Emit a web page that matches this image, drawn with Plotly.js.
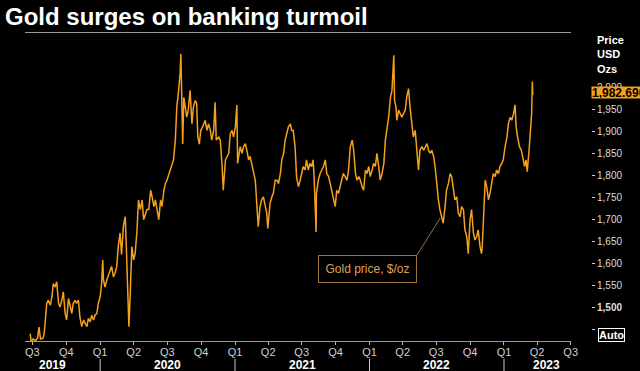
<!DOCTYPE html>
<html>
<head>
<meta charset="utf-8">
<script src="https://cdn.plot.ly/plotly-3.0.1.min.js"></script>
<style>html,body{margin:0;padding:0;background:#000;}#chart{width:640px;height:371px;}</style>
</head>
<body>
<div id="chart"></div>
<script>
// Gold price, $/oz
const dates = [
'2019-06-25','2019-06-28','2019-07-03','2019-07-09','2019-07-15','2019-07-19','2019-07-23','2019-07-30','2019-08-02','2019-08-05',
'2019-08-09','2019-08-13','2019-08-19','2019-08-23','2019-08-27','2019-09-01','2019-09-05','2019-09-10','2019-09-14','2019-09-19',
'2019-09-23','2019-09-28','2019-10-02','2019-10-07','2019-10-11','2019-10-16','2019-10-20','2019-10-25','2019-10-29','2019-11-03',
'2019-11-07','2019-11-12','2019-11-17','2019-11-21','2019-11-26','2019-11-30','2019-12-05','2019-12-09','2019-12-14','2019-12-18',
'2019-12-23','2019-12-27','2020-01-01','2020-01-05','2020-01-08','2020-01-10','2020-01-14','2020-01-19','2020-01-23','2020-01-28',
'2020-02-01','2020-02-06','2020-02-10','2020-02-15','2020-02-19','2020-02-24','2020-02-28','2020-03-04','2020-03-09','2020-03-12',
'2020-03-16','2020-03-19','2020-03-23','2020-03-27','2020-04-01','2020-04-05','2020-04-10','2020-04-14','2020-04-19','2020-04-24',
'2020-04-28','2020-05-03','2020-05-07','2020-05-12','2020-05-17','2020-05-21','2020-05-26','2020-05-30','2020-06-04','2020-06-08',
'2020-06-13','2020-06-17','2020-06-22','2020-06-26','2020-06-30','2020-07-09','2020-07-18','2020-07-23','2020-07-27','2020-07-31',
'2020-08-05','2020-08-07','2020-08-09','2020-08-12','2020-08-15','2020-08-18','2020-08-23','2020-08-27','2020-09-01','2020-09-06',
'2020-09-10','2020-09-15','2020-09-19','2020-09-22','2020-09-26','2020-09-30','2020-10-05','2020-10-12','2020-10-17','2020-10-21',
'2020-10-26','2020-10-30','2020-11-04','2020-11-08','2020-11-11','2020-11-18','2020-11-22','2020-11-27','2020-11-30','2020-12-06',
'2020-12-10','2020-12-15','2020-12-19','2020-12-24','2020-12-28','2021-01-02','2021-01-06','2021-01-08','2021-01-15','2021-01-20',
'2021-01-24','2021-01-29','2021-02-02','2021-02-07','2021-02-11','2021-02-16','2021-02-21','2021-02-25','2021-03-01','2021-03-05',
'2021-03-10','2021-03-14','2021-03-19','2021-03-23','2021-03-28','2021-03-31','2021-04-06','2021-04-11','2021-04-15','2021-04-20',
'2021-04-25','2021-04-29','2021-05-04','2021-05-08','2021-05-13','2021-05-17','2021-05-22','2021-05-26','2021-05-31','2021-06-04',
'2021-06-08','2021-06-13','2021-06-17','2021-06-22','2021-06-27','2021-07-01','2021-07-05','2021-07-10','2021-07-14','2021-07-19',
'2021-07-23','2021-07-28','2021-08-01','2021-08-04','2021-08-09','2021-08-10','2021-08-15','2021-08-20','2021-08-24','2021-08-29',
'2021-09-03','2021-09-07','2021-09-12','2021-09-16','2021-09-21','2021-09-25','2021-09-30','2021-10-04','2021-10-09','2021-10-13',
'2021-10-18','2021-10-22','2021-10-27','2021-11-01','2021-11-05','2021-11-10','2021-11-15','2021-11-19','2021-11-24','2021-11-28',
'2021-12-03','2021-12-07','2021-12-12','2021-12-16','2021-12-21','2021-12-25','2021-12-30','2022-01-03','2022-01-08','2022-01-12',
'2022-01-17','2022-01-21','2022-01-26','2022-01-30','2022-02-04','2022-02-09','2022-02-13','2022-02-18','2022-02-22','2022-02-27',
'2022-03-03','2022-03-08','2022-03-10','2022-03-14','2022-03-16','2022-03-21','2022-03-25','2022-03-30','2022-04-03','2022-04-08',
'2022-04-12','2022-04-17','2022-04-21','2022-04-26','2022-04-30','2022-05-05','2022-05-09','2022-05-14','2022-05-18','2022-05-23',
'2022-05-28','2022-06-01','2022-06-06','2022-06-10','2022-06-15','2022-06-19','2022-06-24','2022-06-28','2022-07-02','2022-07-07',
'2022-07-11','2022-07-16','2022-07-20','2022-07-25','2022-07-29','2022-08-03','2022-08-08','2022-08-12','2022-08-17','2022-08-21',
'2022-08-26','2022-08-30','2022-09-04','2022-09-08','2022-09-13','2022-09-17','2022-09-22','2022-09-26','2022-10-01','2022-10-05',
'2022-10-10','2022-10-14','2022-10-19','2022-10-23','2022-10-28','2022-11-01','2022-11-03','2022-11-08','2022-11-11','2022-11-15',
'2022-11-20','2022-11-24','2022-11-29','2022-12-03','2022-12-08','2022-12-12','2022-12-17','2022-12-21','2022-12-26','2022-12-30',
'2023-01-04','2023-01-09','2023-01-13','2023-01-18','2023-01-22','2023-01-27','2023-01-31','2023-02-03','2023-02-07','2023-02-12',
'2023-02-17','2023-02-21','2023-02-26','2023-03-02','2023-03-05','2023-03-10','2023-03-15','2023-03-17','2023-03-19','2023-03-20'
];
const prices = [
1440,1420,1428,1424,1430,1455,1428,1430,1440,1470,
1509,1516,1505,1524,1554,1546,1558,1509,1501,1516,
1535,1486,1471,1520,1501,1486,1509,1516,1509,1516,
1478,1456,1471,1463,1456,1475,1467,1482,1471,1482,
1486,1509,1524,1554,1608,1562,1546,1562,1573,1585,
1593,1569,1577,1593,1638,1669,1620,1684,1706,1638,
1500,1456,1538,1638,1608,1622,1675,1744,1722,1744,
1699,1714,1722,1722,1766,1751,1729,1744,1722,1699,
1744,1729,1766,1781,1788,1812,1835,1880,1955,1985,
2032,2076,2017,1871,1977,1955,1932,1948,1993,1917,
1955,1970,1963,1887,1871,1902,1910,1925,1902,1917,
1902,1880,1902,1966,1880,1887,1880,1820,1766,1835,
1843,1850,1894,1902,1887,1910,1960,1827,1865,1850,
1865,1872,1857,1835,1843,1820,1804,1789,1729,1683,
1729,1744,1751,1736,1714,1679,1736,1751,1759,1789,
1789,1781,1804,1835,1850,1880,1894,1910,1917,1902,
1902,1865,1797,1774,1789,1804,1820,1812,1835,1812,
1827,1820,1835,1789,1671,1759,1789,1804,1812,1820,
1835,1804,1797,1781,1759,1751,1729,1766,1759,1774,
1789,1804,1797,1789,1812,1865,1880,1857,1804,1789,
1797,1789,1774,1766,1812,1804,1820,1797,1812,1827,
1820,1850,1820,1789,1804,1827,1880,1910,1932,1978,
1993,2073,1970,1955,1925,1948,1940,1932,1940,1948,
1978,1997,1955,1917,1887,1902,1865,1812,1857,1865,
1857,1865,1872,1857,1850,1857,1843,1820,1781,1744,
1722,1706,1691,1729,1766,1781,1804,1797,1766,1744,
1751,1714,1706,1729,1722,1676,1661,1622,1699,1722,
1669,1653,1661,1676,1638,1622,1638,1744,1789,1774,
1744,1759,1781,1804,1797,1812,1804,1820,1827,1835,
1865,1887,1917,1932,1925,1940,1960,1910,1887,1865,
1857,1843,1820,1835,1808,1857,1925,1940,2013,1982.69
];
const lastValue = 1982.69;
const quarterDates = ['2019-07-01','2019-10-01','2020-01-01','2020-04-01','2020-07-01','2020-10-01','2021-01-01','2021-04-01','2021-07-01','2021-10-01','2022-01-01','2022-04-01','2022-07-01','2022-10-01','2023-01-01','2023-04-01','2023-07-01'];
const quarterLabels = ['Q3','Q4','Q1','Q2','Q3','Q4','Q1','Q2','Q3','Q4','Q1','Q2','Q3','Q4','Q1','Q2','Q3'];
const years = ['2019','2020','2021','2022','2023'];
const yearStarts = ['2020-01-01','2021-01-01','2022-01-01','2023-01-01'];
const priceTicks = [1450,1500,1550,1600,1650,1700,1750,1800,1850,1900,1950,2000];
const priceTickLabels = ['','<b>1,500</b>','1,550','1,600','1,650','1,700','1,750','1,800','1,850','1,900','1,950','2,000'];

// layout-only positions
const yearLabelPos = ['2019-08-24','2020-07-01','2021-07-03','2022-07-01','2023-04-27'];
const FONT = 'Liberation Sans, Arial, sans-serif';

const annotations = [];
years.forEach((y, i) => annotations.push({
  text: '<b>' + y + '</b>', xref: 'x', yref: 'paper', x: yearLabelPos[i], y: -0.078,
  showarrow: false, xanchor: 'center', yanchor: 'middle',
  font: {family: FONT, size: 12, color: '#ffffff'}
}));
annotations.push({
  text: 'Gold price, $/oz', xref: 'x', yref: 'y', x: '2021-12-26', y: 1586,
  showarrow: false, xanchor: 'center', yanchor: 'middle', width: 93, height: 22,
  bordercolor: '#9c7440', borderwidth: 1, borderpad: 2,
  font: {family: FONT, size: 12, color: '#dca256'}
});
annotations.push({
  text: '<b>' + lastValue.toLocaleString('en-US', {minimumFractionDigits: 3}) + '</b>',
  xref: 'paper', yref: 'y', x: 1, y: lastValue, xanchor: 'left', yanchor: 'middle', yshift: 2,
  showarrow: false, bgcolor: '#f7a11a', borderpad: 0, height: 11,
  font: {family: FONT, size: 12, color: '#000000'}
});
['Price', 'USD', 'Ozs'].forEach((t, i) => annotations.push({
  text: '<b>' + t + '</b>', xref: 'paper', yref: 'paper', x: 1, xshift: 4,
  y: [0.976, 0.931, 0.882][i], xanchor: 'left', yanchor: 'middle', showarrow: false,
  font: {family: FONT, size: 11, color: '#ffffff'}
}));
annotations.push({
  text: '<b>Auto</b>', xref: 'paper', yref: 'paper', x: 1, xshift: 7, y: 0.0205,
  xanchor: 'left', yanchor: 'middle', showarrow: false,
  bordercolor: '#ffffff', borderwidth: 1, borderpad: 0,
  font: {family: FONT, size: 11, color: '#ffffff'}
});

const shapes = yearStarts.map(d => ({
  type: 'line', xref: 'x', yref: 'paper', x0: d, x1: d, y0: -0.058, y1: -0.1,
  line: {color: '#cccccc', width: 1}
}));
shapes.push({
  type: 'line', xref: 'x', yref: 'y', x0: '2022-05-10', y0: 1619, x1: '2022-07-12', y1: 1703,
  line: {color: '#9c7440', width: 1}
});

const data = [{
  type: 'scatter', mode: 'lines', x: dates, y: prices,
  line: {color: '#f5a11c', width: 1.5}, hoverinfo: 'skip'
}];

const layout = {
  width: 640, height: 371,
  margin: {l: 25, r: 49, t: 33, b: 30, pad: 0},
  paper_bgcolor: '#000000', plot_bgcolor: '#000000',
  showlegend: false,
  title: {
    text: '<b>Gold surges on banking turmoil</b>',
    xref: 'container', yref: 'container', x: 5/640, xanchor: 'left', y: 1 - 17/371, yanchor: 'middle',
    font: {family: FONT, size: 24, color: '#ffffff'}
  },
  xaxis: {
    type: 'date', range: ['2019-06-11', '2023-07-01'], domain: [0, 0.9641],
    tickmode: 'array', tickvals: quarterDates, ticktext: quarterLabels,
    ticks: 'outside', ticklen: 3, tickcolor: '#bbbbbb', ticklabelstandoff: -2,
    showline: true, linecolor: '#9a9a9a', linewidth: 1, mirror: true,
    showgrid: false, zeroline: false,
    tickfont: {family: FONT, size: 11, color: '#cfcfcf'}
  },
  yaxis: {
    side: 'right', anchor: 'free', position: 1,
    range: [1423.4, 2123.4],
    tickmode: 'array', tickvals: priceTicks, ticktext: priceTickLabels,
    ticks: 'outside', ticklen: 3, tickcolor: '#cccccc',
    showline: false, showgrid: false, zeroline: false,
    tickfont: {family: FONT, size: 10, color: '#dddddd'}
  },
  annotations: annotations,
  shapes: shapes
};

Plotly.newPlot('chart', data, layout, {staticPlot: true, displayModeBar: false});
</script>
</body>
</html>
